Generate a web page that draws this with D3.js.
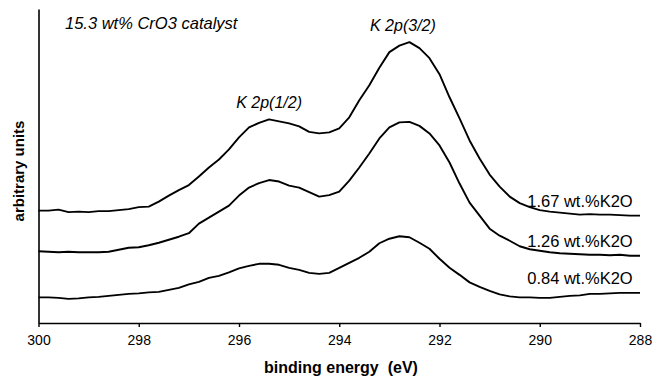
<!DOCTYPE html>
<html>
<head>
<meta charset="utf-8">
<script src="https://cdn.jsdelivr.net/npm/d3@7"></script>
<style>
  html, body { margin: 0; padding: 0; background: #fff; }
  svg { display: block; }
  text { font-family: "Liberation Sans", Arial, sans-serif; fill: #000; }
</style>
</head>
<body>
<svg id="chart" width="654" height="378"></svg>
<script>
// Binding energy grid (eV), 300 -> 288 in 0.2 eV steps
const energies = d3.range(61).map(i => +(300 - 0.2 * i).toFixed(1));

// K 2p spectra (arbitrary units), one per potassium loading
const k167 = [560,560,565,552.5,555,552.5,557.5,557.5,562.5,567.5,
  577.5,580,605,635,662.5,687.5,730,775,815,865,
  925,975,997.5,1015,1005,995,980,952.5,945,950,
  970,1025,1110,1185,1272.5,1350,1382.5,1400,1370,1320,
  1240,1125,1020,910,820,740,680,630,597.5,577.5,
  562.5,555,550,545,540,542.5,540,540,537.5,535,535];

const k126 = [357.5,355,352.5,355,352.5,352.5,352.5,355,365,375,
  377.5,387.5,400,415,430,447.5,495,525,555,585,
  635,675,697.5,712.5,705,685,675,652.5,630,637.5,
  655,710,775,845,920,975,1000,1002.5,982.5,945,
  885,800,695,600,535,470,435,410,382.5,367.5,
  360,352.5,347.5,345,342.5,340,340,337.5,340,335,335];

const k084 = [127.5,127.5,125,120,122.5,127.5,130,135,140,145,
  147.5,152.5,155,165,175,192.5,205,225,235,252.5,
  272.5,285,295,295,290,275,265,250,245,250,
  275,300,325,355,397.5,420,432.5,427.5,400,370,
  320,275,240,202.5,180,160,142.5,132.5,127.5,127.5,
  125,125,130,135,137.5,145,145,147.5,150,150,150];

const seriesNames = ["1.67 wt.%K2O", "1.26 wt.%K2O", "0.84 wt.%K2O"];
const seriesValues = [k167, k126, k084];

const xTicks = [300, 298, 296, 294, 292, 290, 288];
const peakLabels = ["K 2p(1/2)", "K 2p(3/2)"];
const peakEnergies = [295.4, 292.73];
const peakHeights = [1015, 1400];

const svg = d3.select("#chart");

const x = d3.scaleLinear().domain([300, 288]).range([38.5, 640]);
const y = d3.scaleLinear().domain([0, 1565]).range([323, 9]);

// x axis: ticks pointing down, labels every 2 eV
const xAxis = svg.append("g")
  .attr("transform", `translate(0,${y(0)})`)
  .call(d3.axisBottom(x).tickValues(xTicks).tickFormat(d3.format("d"))
    .tickSize(4).tickSizeOuter(0).tickPadding(8));
xAxis.select(".domain").attr("stroke", "#000").attr("stroke-width", 1.6);
xAxis.selectAll(".tick line").attr("stroke", "#000").attr("stroke-width", 1.4);
xAxis.selectAll(".tick text")
  .attr("font-size", 14)
  .attr("font-family", "Liberation Sans, Arial, sans-serif")
  .attr("fill", "#000");

// y axis: plain line, no ticks
const yAxis = svg.append("g")
  .attr("transform", `translate(${x(300)},0)`)
  .call(d3.axisLeft(y).tickValues([]).tickSizeOuter(0));
yAxis.select(".domain").attr("stroke", "#000").attr("stroke-width", 1.6);

// spectra
const line = d3.line()
  .x((d, i) => x(energies[i]))
  .y(d => y(d));

svg.append("g").selectAll("path")
  .data(seriesValues)
  .join("path")
  .attr("d", line)
  .attr("fill", "none")
  .attr("stroke", "#000")
  .attr("stroke-width", 1.9)
  .attr("stroke-linejoin", "round");

// series labels at the low-energy end of each spectrum
svg.append("g").selectAll("text")
  .data(seriesValues)
  .join("text")
  .attr("x", x(290.25))
  .attr("y", d => y(d[d.length - 1]) - 9)
  .attr("font-size", 16.5)
  .text((d, i) => seriesNames[i]);

// peak annotations
svg.append("g").selectAll("text")
  .data(peakLabels)
  .join("text")
  .attr("x", (d, i) => x(peakEnergies[i]))
  .attr("y", (d, i) => y(peakHeights[i]) - 11)
  .attr("text-anchor", "middle")
  .attr("font-size", 16)
  .attr("font-style", "italic")
  .text(d => d);

// title
svg.append("text")
  .attr("x", 65)
  .attr("y", 29)
  .attr("font-size", 16.5)
  .attr("font-style", "italic")
  .text("15.3 wt% CrO3 catalyst");

// axis titles
svg.append("text")
  .attr("x", 341)
  .attr("y", 373)
  .attr("text-anchor", "middle")
  .attr("font-size", 16)
  .attr("font-weight", "bold")
  .style("white-space", "pre")
  .text("binding energy  (eV)");

svg.append("text")
  .attr("transform", "translate(24,171) rotate(-90)")
  .attr("text-anchor", "middle")
  .attr("font-size", 15)
  .attr("font-weight", "bold")
  .text("arbitrary units");
</script>
</body>
</html>
